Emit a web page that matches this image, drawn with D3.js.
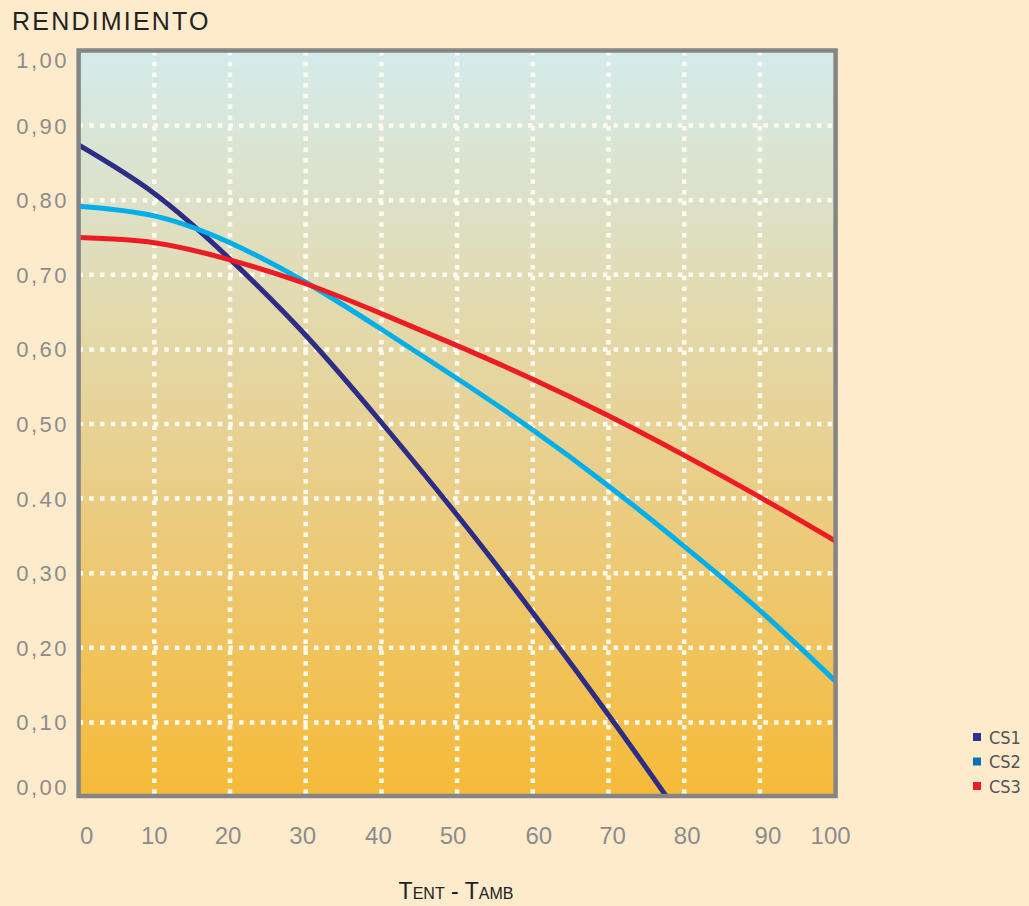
<!DOCTYPE html>
<html>
<head>
<meta charset="utf-8">
<script src="https://cdn.jsdelivr.net/npm/d3@7"></script>
<style>
  body { margin: 0; background: #feebcc; }
  svg { display: block; }
</style>
</head>
<body>
<div id="main"></div>
<script>
// data
var tempDiff = [0, 10, 20, 30, 40, 50, 60, 70, 80, 90, 100];
var cs1 = [0.874, 0.809, 0.721, 0.619, 0.502, 0.378, 0.247, 0.110, null, null, null];
var cs1End = [77.7, 0.0];   // where CS1 reaches zero
var cs2 = [0.792, 0.779, 0.743, 0.690, 0.627, 0.561, 0.492, 0.417, 0.336, 0.250, 0.155];
var cs3 = [0.750, 0.743, 0.720, 0.688, 0.648, 0.605, 0.560, 0.511, 0.458, 0.402, 0.343];
var yTicks = [0, 0.1, 0.2, 0.3, 0.4, 0.5, 0.6, 0.7, 0.8, 0.9, 1.0];
var yTickLabels = ["0,00", "0,10", "0,20", "0,30", "0.40", "0,50", "0,60", "0,70", "0,80", "0,90", "1,00"];
var seriesNames = ["CS1", "CS2", "CS3"];
var lineColors = ["#2e2d86", "#00aeea", "#ed1c24"];
var legendColors = ["#2e3192", "#0071bc", "#ed1c24"];

var width = 1029, height = 906;
var plot = {left: 78.6, right: 835.6, top: 51, bottom: 797};

var x = d3.scaleLinear().domain([0, 100]).range([plot.left, plot.right]);
var y = d3.scaleLinear().domain([0, 1]).range([plot.bottom, plot.top]);

var svg = d3.select("#main").append("svg")
    .attr("width", width)
    .attr("height", height);

// background gradient of the plot
var defs = svg.append("defs");
var grad = defs.append("linearGradient")
    .attr("id", "bg").attr("x1", 0).attr("y1", 0).attr("x2", 0).attr("y2", 1);
grad.append("stop").attr("offset", 0).attr("stop-color", "#d4ebec");
grad.append("stop").attr("offset", 0.3).attr("stop-color", "#e1dcb6");
grad.append("stop").attr("offset", 0.6).attr("stop-color", "#eacd84");
grad.append("stop").attr("offset", 1).attr("stop-color", "#f6ba38");

defs.append("clipPath").attr("id", "clip")
  .append("rect")
    .attr("x", plot.left).attr("y", plot.top)
    .attr("width", plot.right - plot.left).attr("height", plot.bottom - plot.top);

svg.append("rect")
    .attr("x", plot.left).attr("y", plot.top)
    .attr("width", plot.right - plot.left).attr("height", plot.bottom - plot.top)
    .attr("fill", "url(#bg)");

// dotted grid
var grid = svg.append("g")
    .attr("stroke", "#fffaf0")
    .attr("stroke-width", 4.5)
    .attr("stroke-dasharray", "4.5,6.2");

grid.selectAll(".vgrid")
    .data(tempDiff.slice(1, -1))
    .enter().append("line")
    .attr("x1", function(d) { return x(d); })
    .attr("x2", function(d) { return x(d); })
    .attr("y1", plot.top)
    .attr("y2", plot.bottom);

grid.selectAll(".hgrid")
    .data(yTicks.slice(1, -1))
    .enter().append("line")
    .attr("y1", function(d) { return y(d); })
    .attr("y2", function(d) { return y(d); })
    .attr("x1", plot.left)
    .attr("x2", plot.right);

// curves
var line = d3.line()
    .x(function(d) { return x(d[0]); })
    .y(function(d) { return y(d[1]); })
    .curve(d3.curveNatural);

function pairs(vals) {
    return tempDiff.map(function(t, i) { return [t, vals[i]]; })
        .filter(function(d) { return d[1] != null; });
}

var seriesData = [pairs(cs1).concat([cs1End]), pairs(cs2), pairs(cs3)];

svg.append("g")
    .attr("clip-path", "url(#clip)")
    .selectAll("path")
    .data(seriesData)
    .enter().append("path")
    .attr("d", line)
    .attr("fill", "none")
    .attr("stroke-width", 5)
    .attr("stroke", function(d, i) { return lineColors[i]; });

// frame
svg.append("rect")
    .attr("x", plot.left).attr("y", plot.top - 0.5)
    .attr("width", plot.right - plot.left).attr("height", plot.bottom - plot.top - 0.5)
    .attr("fill", "none")
    .attr("stroke", "#858585")
    .attr("stroke-width", 4.5);

// y labels
svg.append("g").selectAll("text")
    .data(yTicks)
    .enter().append("text")
    .attr("x", 69)
    .attr("y", function(d, i) {
        var off = 8;
        if (i === 0) off = -2;
        if (i === yTicks.length - 1) off = 17;
        return y(d) + off;
    })
    .attr("text-anchor", "end")
    .attr("font-family", "Liberation Sans, Arial, sans-serif")
    .attr("font-size", 22)
    .attr("letter-spacing", 2.5)
    .attr("fill", "#8c8c8c")
    .text(function(d, i) { return yTickLabels[i]; });

// x labels
var xOffsets = [8, 0, -2, -3, -3, -4, 6, 4, 3, 8, -5];
svg.append("g").selectAll("text")
    .data(tempDiff)
    .enter().append("text")
    .attr("x", function(d, i) { return x(d) + xOffsets[i]; })
    .attr("y", 844)
    .attr("text-anchor", "middle")
    .attr("font-family", "Liberation Sans, Arial, sans-serif")
    .attr("font-size", 24)
    .attr("fill", "#8c8c8c")
    .text(function(d) { return d; });

// title
svg.append("text")
    .attr("x", 12).attr("y", 30)
    .attr("font-family", "Liberation Sans, Arial, sans-serif")
    .attr("font-size", 25)
    .attr("letter-spacing", 2.2)
    .attr("fill", "#222")
    .text("RENDIMIENTO");

// x axis title: small caps T ENT - T AMB
var xt = svg.append("text")
    .attr("x", 456).attr("y", 899)
    .attr("text-anchor", "middle")
    .attr("font-family", "Liberation Sans, Arial, sans-serif")
    .attr("fill", "#222");
xt.append("tspan").attr("font-size", 23).text("T");
xt.append("tspan").attr("font-size", 16).text("ENT");
xt.append("tspan").attr("font-size", 23).text(" - T");
xt.append("tspan").attr("font-size", 16).text("AMB");

// legend
var legend = svg.append("g").selectAll("g")
    .data(seriesNames)
    .enter().append("g")
    .attr("transform", function(d, i) { return "translate(973," + (737 + i * 24.5) + ")"; });

legend.append("rect")
    .attr("x", 0).attr("y", -4)
    .attr("width", 8).attr("height", 8)
    .attr("fill", function(d, i) { return legendColors[i]; });

legend.append("text")
    .attr("x", 16).attr("y", 6.5)
    .attr("font-family", "Liberation Sans Narrow, DejaVu Sans Condensed, sans-serif")
    .attr("font-size", 18)
    .attr("fill", "#555")
    .text(function(d) { return d; });
</script>
</body>
</html>
